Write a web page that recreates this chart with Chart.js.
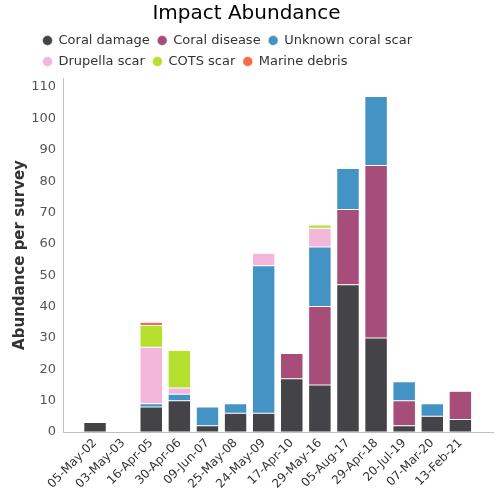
<!DOCTYPE html>
<html>
<head>
<meta charset="utf-8">
<script src="https://cdn.jsdelivr.net/npm/chart.js@4.4.1/dist/chart.umd.min.js"></script>
<style>
  html, body { margin: 0; padding: 0; background: #fff; }
  #wrap { width: 500px; height: 500px; }
</style>
</head>
<body>
<div id="wrap"><canvas id="chart"></canvas></div>
<script>
// survey dates (x categories)
const surveyDates = ['05-May-02', '03-May-03', '16-Apr-05', '30-Apr-06', '09-Jun-07', '25-May-08', '24-May-09',
    '17-Apr-10', '29-May-16', '05-Aug-17', '29-Apr-18', '20-Jul-19', '07-Mar-20', '13-Feb-21'];

// abundance per survey, one array per impact type
const coralDamage   = [3, null, 8, 10, 2, 6, 6, 17, 15, 47, 30, 2, 5, 4];
const coralDisease  = [null, null, null, null, null, null, null, 8, 25, 24, 55, 8, null, 9];
const unknownScar   = [null, null, 1, 2, 6, 3, 47, null, 19, 13, 22, 6, 4, null];
const drupellaScar  = [null, null, 18, 2, null, null, 4, null, 6, null, null, null, null, null];
const cotsScar      = [null, null, 7, 12, null, null, null, null, 1, null, null, null, null, null];
const marineDebris  = [null, null, 1, null, null, null, null, null, null, null, null, null, null, null];

const yTicks = [0, 10, 20, 30, 40, 50, 60, 70, 80, 90, 100, 110];

const SERIES = [
    { label: 'Coral damage', values: coralDamage, color: '#434348' },
    { label: 'Coral disease', values: coralDisease, color: '#A64D79' },
    { label: 'Unknown coral scar', values: unknownScar, color: '#4394C4' },
    { label: 'Drupella scar', values: drupellaScar, color: '#F2B7DA' },
    { label: 'COTS scar', values: cotsScar, color: '#B5E02E' },
    { label: 'Marine debris', values: marineDebris, color: '#F76B45' }
];

Chart.defaults.font.family = '"DejaVu Sans", sans-serif';
Chart.defaults.color = '#333333';

// rows of the legend start at the same left edge, like the original
const legendShift = {
    id: 'legendShift',
    afterLayout(chart) {
        const lg = chart.legend;
        const dx = 35 - lg.left;
        lg.left += dx;
        lg.right += dx;
    }
};

new Chart(document.getElementById('chart'), {
    type: 'bar',
    data: {
        datasets: SERIES.map(s => ({
            label: s.label,
            data: s.values.map((v, i) => ({ x: i, y: v })),
            backgroundColor: s.color,
            borderColor: '#ffffff',
            borderWidth: 0.5,
            borderSkipped: false,
            barPercentage: 0.8,
            categoryPercentage: 1
        }))
    },
    options: {
        responsive: true,
        maintainAspectRatio: false,
        animation: false,
        layout: { padding: { top: 2, right: 7, left: 0, bottom: 0 } },
        plugins: {
            title: {
                display: true,
                text: 'Impact Abundance',
                color: '#000000',
                font: { size: 20, weight: 'normal' },
                padding: { top: 0, bottom: 0 }
            },
            legend: {
                position: 'top',
                align: 'start',
                fullSize: false,
                labels: {
                    usePointStyle: true,
                    pointStyle: 'circle',
                    boxWidth: 9,
                    boxHeight: 7,
                    padding: 8,
                    color: '#333333',
                    font: { size: 13 }
                }
            },
            tooltip: { enabled: false }
        },
        scales: {
            x: {
                type: 'linear',
                stacked: true,
                offset: false,
                min: -1.14,
                max: 14.16,
                grid: { display: false, drawTicks: false },
                border: { display: true, color: '#c0c0c0' },
                ticks: {
                    stepSize: 1,
                    includeBounds: false,
                    autoSkip: false,
                    maxRotation: 45,
                    minRotation: 45,
                    padding: 4,
                    color: '#333333',
                    font: { size: 12 },
                    callback: v => surveyDates[v] || ''
                },
                afterFit: scale => {
                    scale.height = 68;
                    scale.paddingLeft = 0;
                    scale.paddingRight = 0;
                }
            },
            y: {
                stacked: true,
                min: 0,
                max: 112.9,
                grid: { display: false, drawTicks: false },
                border: { display: true, color: '#c0c0c0' },
                title: {
                    display: true,
                    text: 'Abundance per survey',
                    color: '#333333',
                    font: { size: 15, weight: 'bold' },
                    padding: { top: 11 }
                },
                ticks: {
                    stepSize: 10,
                    includeBounds: false,
                    padding: 7,
                    color: '#555555',
                    font: { size: 13 },
                    callback: v => yTicks.includes(v) ? v : ''
                },
                afterFit: scale => { scale.width = 63; }
            }
        }
    },
    plugins: [legendShift]
});
</script>
</body>
</html>
